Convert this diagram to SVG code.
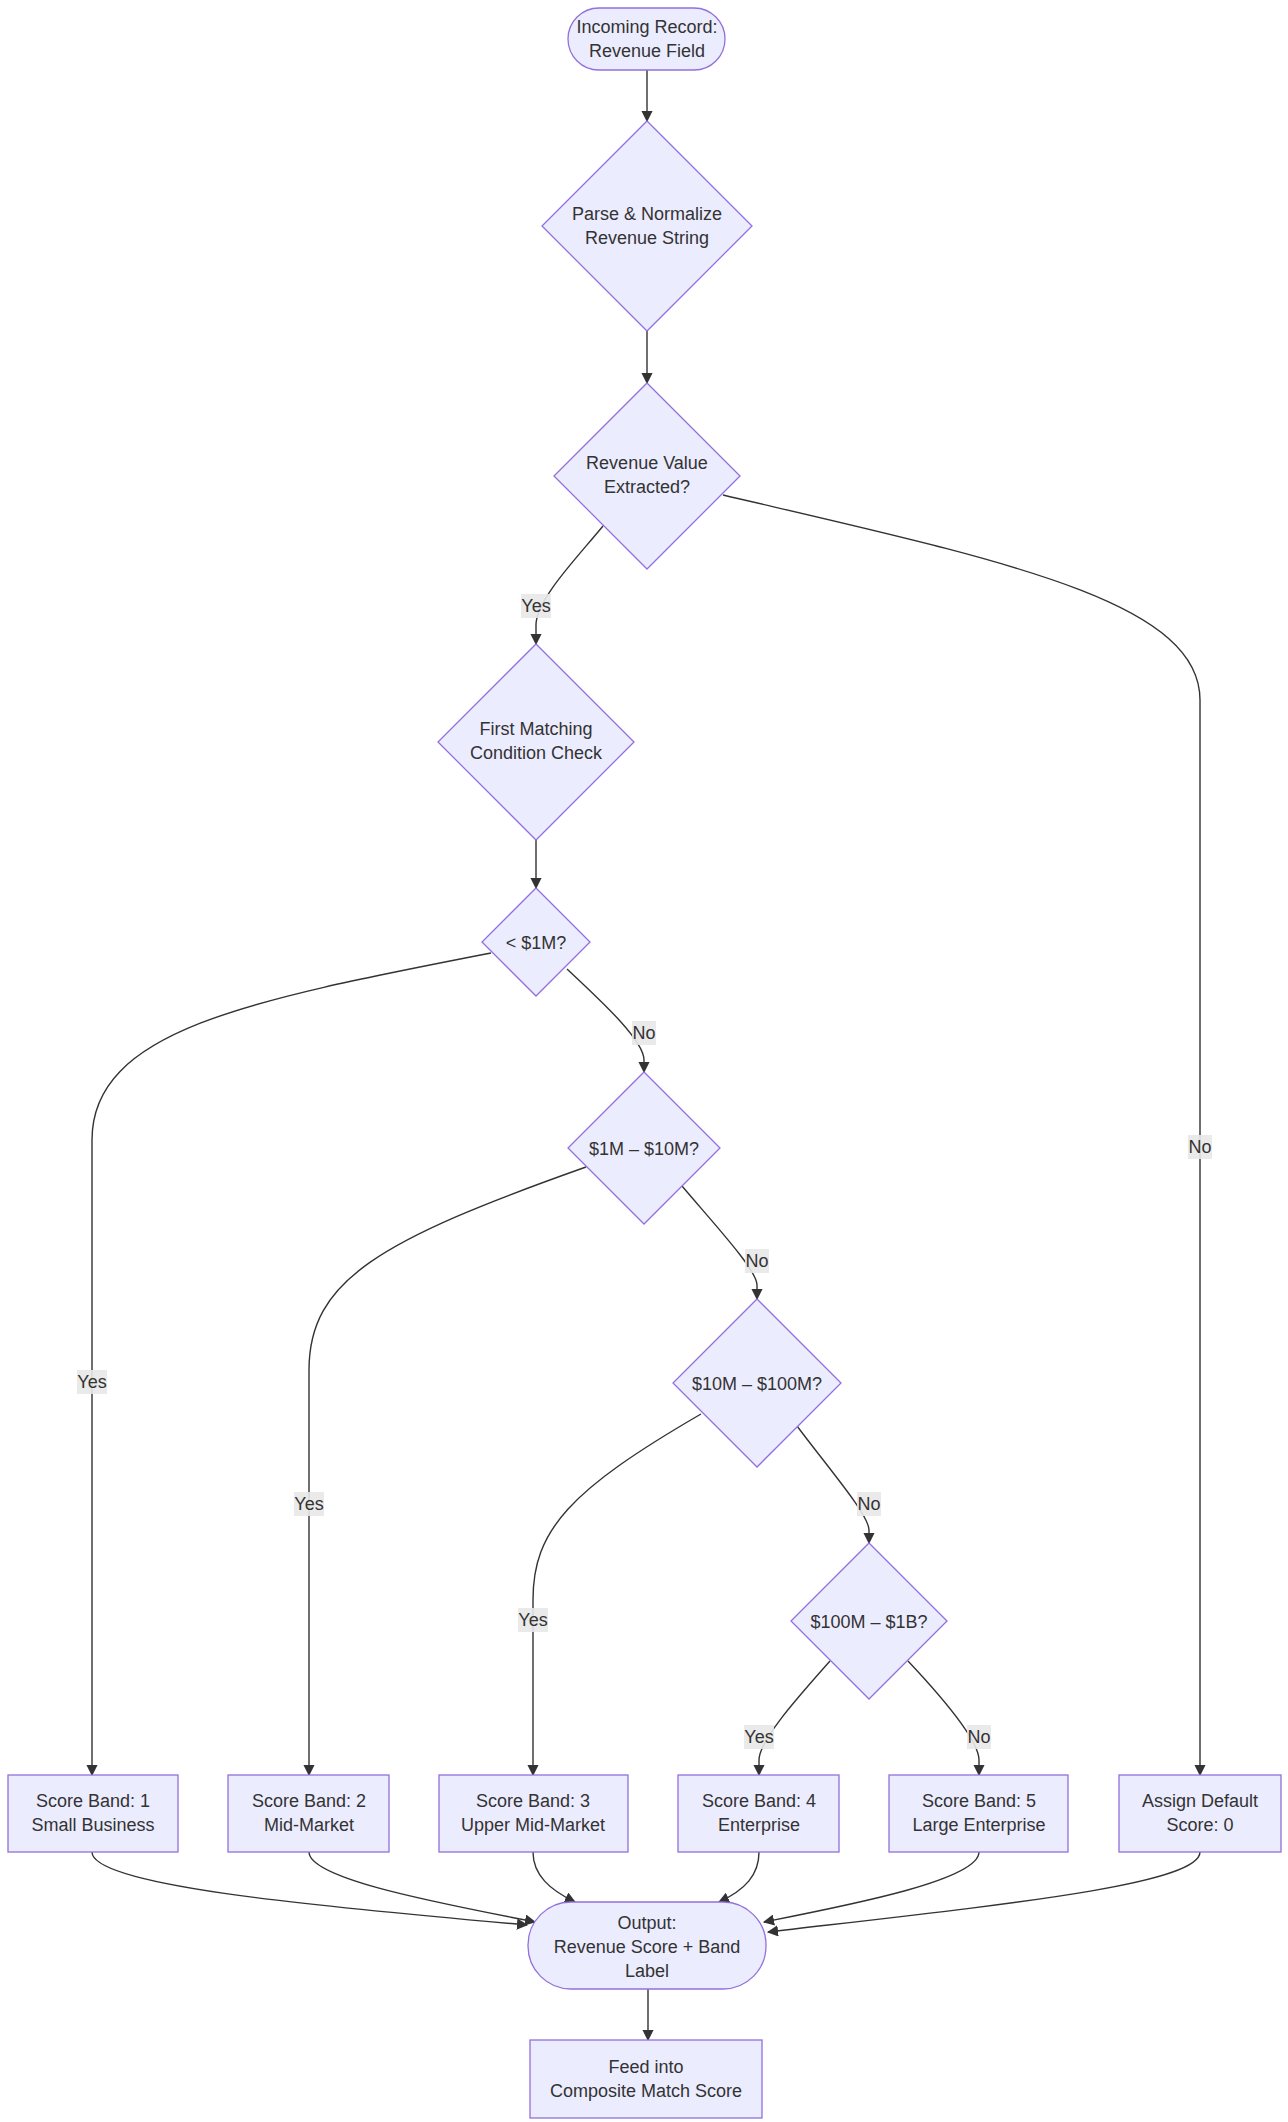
<svg xmlns="http://www.w3.org/2000/svg" width="1288" height="2122" viewBox="0 0 1288 2122">
<style>
.n{fill:#ECECFF;stroke:#9370DB;stroke-width:1.3}
.t{font-family:"Liberation Sans",Arial,sans-serif;font-size:18px;fill:#333;text-anchor:middle}
.e{fill:none;stroke:#333;stroke-width:1.4}
.lb{fill:#e8e8e8;opacity:0.9}
</style>
<defs><marker id="a" viewBox="0 0 10 10" refX="9" refY="5" markerWidth="8" markerHeight="8" orient="auto"><path d="M0,0L10,5L0,10z" fill="#333"/></marker></defs>
<rect width="1288" height="2122" fill="#fff"/>
<g id="edges">
<path class="e" marker-end="url(#a)" d="M647,70V121"/>
<path class="e" marker-end="url(#a)" d="M647,331V383"/>
<path class="e" marker-end="url(#a)" d="M603,526C575,560 536,600 536,625V644"/>
<path class="e" marker-end="url(#a)" d="M723,495C1000,560 1200,600 1200,700V1775"/>
<path class="e" marker-end="url(#a)" d="M536,840V888"/>
<path class="e" marker-end="url(#a)" d="M491,953C250,1000 92,1030 92,1140V1775"/>
<path class="e" marker-end="url(#a)" d="M567,969C600,1000 644,1040 644,1060V1072"/>
<path class="e" marker-end="url(#a)" d="M586,1167C380,1240 309,1280 309,1370V1775"/>
<path class="e" marker-end="url(#a)" d="M682,1186C715,1225 757,1270 757,1285V1299"/>
<path class="e" marker-end="url(#a)" d="M701,1414C570,1490 533,1530 533,1600V1775"/>
<path class="e" marker-end="url(#a)" d="M797,1426C830,1470 869,1515 869,1530V1543"/>
<path class="e" marker-end="url(#a)" d="M830,1661C800,1695 759,1740 759,1760V1775"/>
<path class="e" marker-end="url(#a)" d="M908,1661C940,1695 979,1740 979,1760V1775"/>
<path class="e" marker-end="url(#a)" d="M92,1852C92,1885 300,1905 527,1925"/>
<path class="e" marker-end="url(#a)" d="M309,1852C309,1880 450,1905 535,1922"/>
<path class="e" marker-end="url(#a)" d="M533,1852C533,1875 550,1890 575,1902"/>
<path class="e" marker-end="url(#a)" d="M759,1852C759,1875 745,1890 719,1902"/>
<path class="e" marker-end="url(#a)" d="M979,1852C979,1880 850,1905 764,1922"/>
<path class="e" marker-end="url(#a)" d="M1200,1852C1200,1885 1000,1905 768,1932"/>
<path class="e" marker-end="url(#a)" d="M648,1989V2040"/>
<rect class="lb" x="521" y="594" width="30" height="24"/><text class="t" x="536" y="612">Yes</text>
<rect class="lb" x="1188" y="1135" width="24" height="24"/><text class="t" x="1200" y="1153">No</text>
<rect class="lb" x="77" y="1370" width="30" height="24"/><text class="t" x="92" y="1388">Yes</text>
<rect class="lb" x="632" y="1021" width="24" height="24"/><text class="t" x="644" y="1039">No</text>
<rect class="lb" x="294" y="1492" width="30" height="24"/><text class="t" x="309" y="1510">Yes</text>
<rect class="lb" x="745" y="1249" width="24" height="24"/><text class="t" x="757" y="1267">No</text>
<rect class="lb" x="518" y="1608" width="30" height="24"/><text class="t" x="533" y="1626">Yes</text>
<rect class="lb" x="857" y="1492" width="24" height="24"/><text class="t" x="869" y="1510">No</text>
<rect class="lb" x="744" y="1725" width="30" height="24"/><text class="t" x="759" y="1743">Yes</text>
<rect class="lb" x="967" y="1725" width="24" height="24"/><text class="t" x="979" y="1743">No</text>
</g>
<g id="start"><rect class="n" x="568" y="8" width="157" height="62" rx="31"/><text class="t" x="647" y="33">Incoming Record:</text><text class="t" x="647" y="57">Revenue Field</text></g>
<g id="parse"><path class="n" d="M647,121L752,226L647,331L542,226z"/><text class="t" x="647" y="220">Parse &amp; Normalize</text><text class="t" x="647" y="244">Revenue String</text></g>
<g id="extracted"><path class="n" d="M647,383L740,476L647,569L554,476z"/><text class="t" x="647" y="469">Revenue Value</text><text class="t" x="647" y="493">Extracted?</text></g>
<g id="first"><path class="n" d="M536,644L634,742L536,840L438,742z"/><text class="t" x="536" y="735">First Matching</text><text class="t" x="536" y="759">Condition Check</text></g>
<g id="lt1m"><path class="n" d="M536,888L590,942L536,996L482,942z"/><text class="t" x="536" y="949">&lt; $1M?</text></g>
<g id="m1_10"><path class="n" d="M644,1072L720,1148L644,1224L568,1148z"/><text class="t" x="644" y="1155">$1M – $10M?</text></g>
<g id="m10_100"><path class="n" d="M757,1299L841,1383L757,1467L673,1383z"/><text class="t" x="757" y="1390">$10M – $100M?</text></g>
<g id="m100_1b"><path class="n" d="M869,1543L947,1621L869,1699L791,1621z"/><text class="t" x="869" y="1628">$100M – $1B?</text></g>
<g id="sb1"><rect class="n" x="8" y="1775" width="170" height="77"/><text class="t" x="93" y="1807">Score Band: 1</text><text class="t" x="93" y="1831">Small Business</text></g>
<g id="sb2"><rect class="n" x="228" y="1775" width="161" height="77"/><text class="t" x="309" y="1807">Score Band: 2</text><text class="t" x="309" y="1831">Mid-Market</text></g>
<g id="sb3"><rect class="n" x="439" y="1775" width="189" height="77"/><text class="t" x="533" y="1807">Score Band: 3</text><text class="t" x="533" y="1831">Upper Mid-Market</text></g>
<g id="sb4"><rect class="n" x="678" y="1775" width="161" height="77"/><text class="t" x="759" y="1807">Score Band: 4</text><text class="t" x="759" y="1831">Enterprise</text></g>
<g id="sb5"><rect class="n" x="889" y="1775" width="179" height="77"/><text class="t" x="979" y="1807">Score Band: 5</text><text class="t" x="979" y="1831">Large Enterprise</text></g>
<g id="default"><rect class="n" x="1119" y="1775" width="162" height="77"/><text class="t" x="1200" y="1807">Assign Default</text><text class="t" x="1200" y="1831">Score: 0</text></g>
<g id="output"><rect class="n" x="528" y="1902" width="238" height="87" rx="43"/><text class="t" x="647" y="1929">Output:</text><text class="t" x="647" y="1953">Revenue Score + Band</text><text class="t" x="647" y="1977">Label</text></g>
<g id="feed"><rect class="n" x="530" y="2040" width="232" height="78"/><text class="t" x="646" y="2073">Feed into</text><text class="t" x="646" y="2097">Composite Match Score</text></g>
</svg>
